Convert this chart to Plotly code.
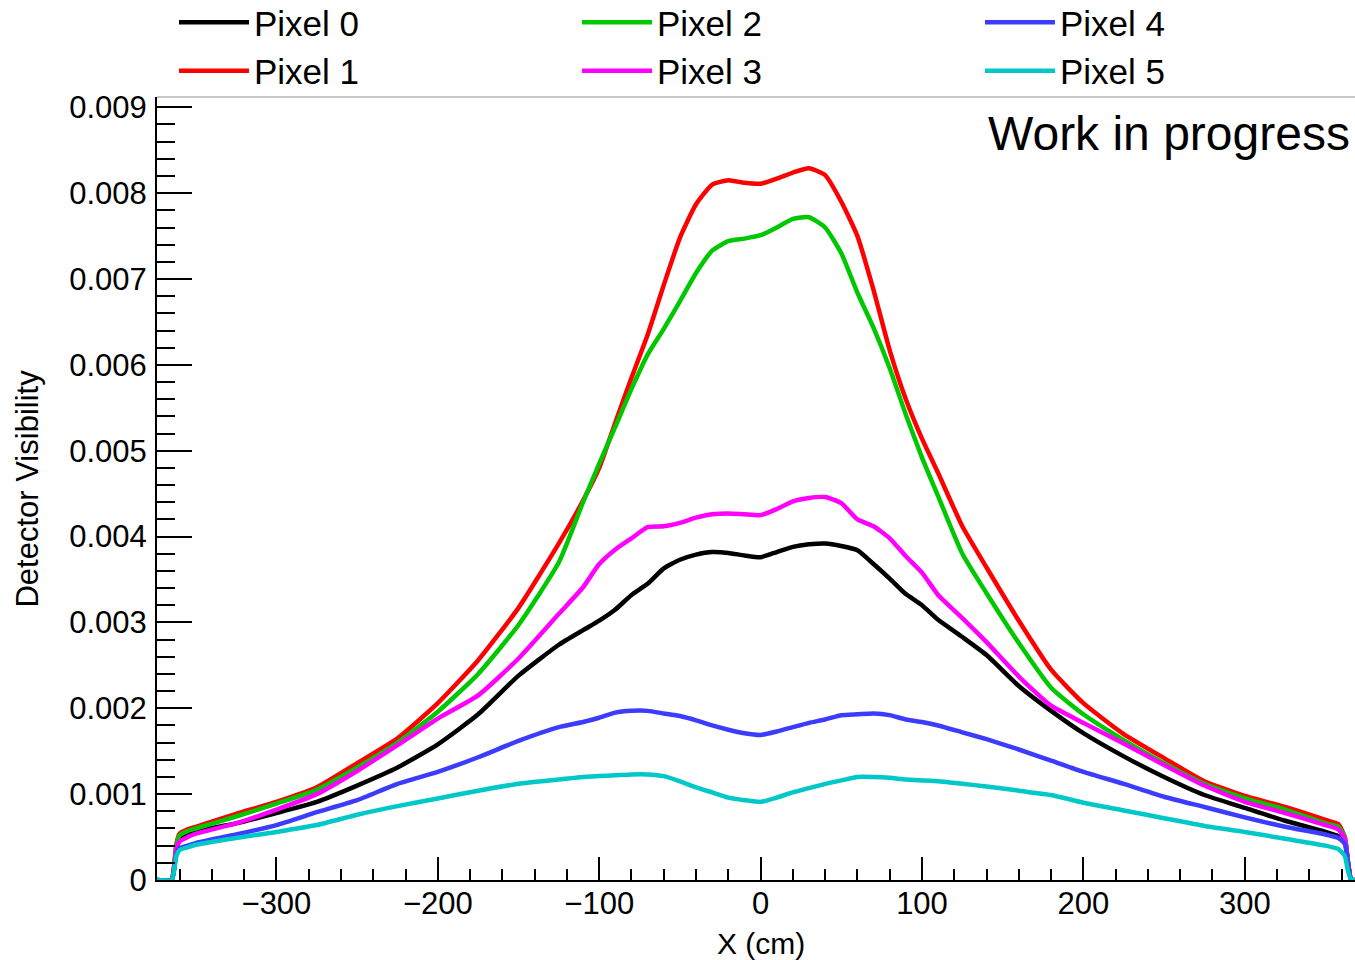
import plotly.graph_objects as go

# ---------------- data ----------------
x_cm = [-375, -365, -363.5, -362, -360, -355, -350, -325, -300, -275, -250, -225, -200,
        -175, -150, -125, -110, -100, -90, -80, -70, -60, -50, -40, -30, -20, -10, 0,
        10, 20, 30, 40, 50, 60, 70, 80, 90, 100, 110, 125, 140, 160, 180, 200, 225,
        250, 275, 300, 325, 350, 358, 362, 364, 366, 369]

# values in units of 1e-3
pixel0 = [0, 0, 0.12, 0.35, 0.48, 0.53, 0.57, 0.66, 0.78, 0.91, 1.10, 1.31, 1.58,
          1.93, 2.38, 2.74, 2.91, 3.02, 3.15, 3.32, 3.45, 3.63, 3.73, 3.79, 3.82, 3.81, 3.78, 3.76,
          3.82, 3.88, 3.91, 3.92, 3.89, 3.84, 3.68, 3.51, 3.33, 3.20, 3.03, 2.83, 2.62, 2.26, 1.97, 1.71, 1.44,
          1.20, 0.99, 0.84, 0.69, 0.56, 0.51, 0.45, 0.20, 0, 0]
pixel1 = [0, 0, 0.15, 0.42, 0.54, 0.59, 0.62, 0.77, 0.91, 1.08, 1.36, 1.65, 2.06,
          2.56, 3.17, 3.92, 4.42, 4.80, 5.33, 5.85, 6.35, 6.93, 7.48, 7.87, 8.10, 8.15, 8.12, 8.11,
          8.17, 8.24, 8.29, 8.21, 7.90, 7.50, 6.87, 6.17, 5.60, 5.14, 4.74, 4.12, 3.64, 3.02, 2.45, 2.06, 1.70,
          1.42, 1.15, 0.98, 0.85, 0.70, 0.65, 0.50, 0.20, 0, 0]
pixel2 = [0, 0, 0.12, 0.40, 0.52, 0.57, 0.60, 0.74, 0.89, 1.05, 1.31, 1.60, 1.96,
          2.40, 2.97, 3.70, 4.40, 4.85, 5.28, 5.72, 6.12, 6.42, 6.74, 7.07, 7.33, 7.44, 7.47, 7.51,
          7.60, 7.70, 7.72, 7.60, 7.30, 6.84, 6.43, 5.96, 5.42, 4.92, 4.47, 3.80, 3.34, 2.76, 2.24, 1.93, 1.63,
          1.36, 1.12, 0.95, 0.82, 0.66, 0.62, 0.50, 0.20, 0, 0]
pixel3 = [0, 0, 0.12, 0.36, 0.45, 0.50, 0.54, 0.66, 0.82, 1.00, 1.27, 1.57, 1.88,
          2.15, 2.58, 3.10, 3.41, 3.68, 3.85, 3.98, 4.11, 4.12, 4.16, 4.22, 4.26, 4.27, 4.26, 4.25,
          4.32, 4.41, 4.45, 4.46, 4.39, 4.20, 4.12, 3.98, 3.77, 3.58, 3.32, 3.05, 2.77, 2.37, 2.03, 1.83, 1.59,
          1.34, 1.10, 0.91, 0.78, 0.64, 0.59, 0.48, 0.20, 0, 0]
pixel4 = [0, 0, 0.12, 0.30, 0.37, 0.40, 0.43, 0.53, 0.64, 0.79, 0.93, 1.12, 1.26,
          1.43, 1.62, 1.78, 1.84, 1.89, 1.95, 1.97, 1.97, 1.94, 1.91, 1.86, 1.80, 1.75, 1.71, 1.69,
          1.73, 1.78, 1.83, 1.87, 1.92, 1.93, 1.94, 1.92, 1.87, 1.84, 1.80, 1.72, 1.64, 1.52, 1.39, 1.26, 1.12,
          0.97, 0.85, 0.73, 0.62, 0.53, 0.49, 0.42, 0.18, 0, 0]
pixel5 = [0, 0, 0.10, 0.28, 0.35, 0.38, 0.41, 0.49, 0.56, 0.64, 0.76, 0.86, 0.95,
          1.04, 1.12, 1.17, 1.20, 1.21, 1.22, 1.23, 1.23, 1.21, 1.15, 1.08, 1.02, 0.96, 0.93, 0.91,
          0.96, 1.02, 1.07, 1.12, 1.16, 1.20, 1.20, 1.19, 1.17, 1.16, 1.15, 1.12, 1.09, 1.04, 0.99, 0.90, 0.81,
          0.72, 0.63, 0.56, 0.48, 0.40, 0.36, 0.28, 0.10, 0, 0]

series_names = ["Pixel 0", "Pixel 1", "Pixel 2", "Pixel 3", "Pixel 4", "Pixel 5"]
series_values = [pixel0, pixel1, pixel2, pixel3, pixel4, pixel5]
series_colors = ["#000000", "#ff0000", "#00c800", "#ff00ff", "#3c3cff", "#00c8c8"]
legend_ranks = [1, 4, 2, 5, 3, 6]   # column-wise legend order (3 columns x 2 rows)

y_tickvals = [0, 0.001, 0.002, 0.003, 0.004, 0.005, 0.006, 0.007, 0.008, 0.009]
y_ticktext = ["0", "0.001", "0.002", "0.003", "0.004", "0.005", "0.006", "0.007", "0.008", "0.009"]

FONT = "Liberation Sans, Arial, Helvetica, sans-serif"

fig = go.Figure()
for name, vals, col, rk in zip(series_names, series_values, series_colors, legend_ranks):
    fig.add_trace(go.Scatter(
        x=x_cm, y=[v * 1e-3 for v in vals], mode="lines", name=name,
        line=dict(color=col, width=4.5, shape="spline", smoothing=0.5), legendrank=rk,
    ))

fig.update_layout(
    width=1355, height=960,
    margin=dict(l=157, r=0, t=97, b=80, autoexpand=False),
    paper_bgcolor="white", plot_bgcolor="white",
    font=dict(family=FONT, size=31, color="black"),
    showlegend=True,
    legend=dict(
        orientation="h", x=-0.00001, xanchor="left", y=1.1545, yanchor="top",
        itemwidth=70, entrywidth=318, entrywidthmode="pixels",
        borderwidth=17, bordercolor="rgba(0,0,0,0)", bgcolor="rgba(0,0,0,0)",
        font=dict(family=FONT, size=35, color="black"),
        traceorder="normal",
    ),
    xaxis=dict(
        range=[-374, 368.3], showgrid=False, zeroline=False,
        showline=True, linecolor="black", linewidth=2,
        ticks="inside", ticklen=23, tickwidth=2, tickcolor="black",
        tick0=0, dtick=100, tickfont=dict(family=FONT, size=31),
        ticklabelstandoff=-5,
        minor=dict(ticks="inside", ticklen=11, tickwidth=2, tickcolor="black", dtick=20, tick0=0, showgrid=False),
    ),
    yaxis=dict(
        range=[0, 0.00912], showgrid=False, zeroline=False,
        showline=True, linecolor="black", linewidth=2,
        ticks="inside", ticklen=35, tickwidth=2, tickcolor="black",
        tickmode="array", tickvals=y_tickvals, ticktext=y_ticktext,
        tickfont=dict(family=FONT, size=31), ticklabelstandoff=2,
        minor=dict(ticks="inside", ticklen=18, tickwidth=2, tickcolor="black", dtick=0.0002, tick0=0, showgrid=False),
    ),
    shapes=[dict(type="line", xref="paper", yref="paper", x0=0, x1=1, y0=1, y1=1,
                 line=dict(color="#b4b4b4", width=1.5))],
    annotations=[
        dict(text="Work in progress", xref="paper", yref="paper", x=1, y=0.953,
             xanchor="right", yanchor="middle", xshift=-3, showarrow=False,
             font=dict(family=FONT, size=48, color="black")),
        dict(text="X (cm)", xref="x", yref="paper", x=0, y=0, yshift=-63,
             xanchor="center", yanchor="middle", showarrow=False,
             font=dict(family=FONT, size=30, color="black")),
        dict(text="Detector Visibility", xref="paper", yref="paper", x=-0.1085, y=0.5,
             xanchor="center", yanchor="middle", textangle=-90, showarrow=False,
             font=dict(family=FONT, size=31, color="black")),
    ],
)

fig.write_html("out.html")
